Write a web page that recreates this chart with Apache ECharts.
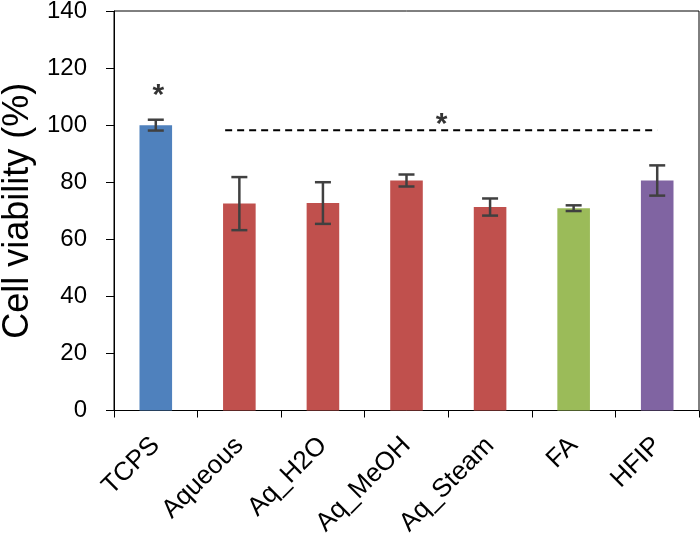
<!DOCTYPE html>
<html>
<head>
<meta charset="utf-8">
<script src="https://cdn.jsdelivr.net/npm/echarts@6/dist/echarts.min.js"></script>
<style>
html,body{margin:0;padding:0;background:#fff;}
#chart{width:700px;height:537px;}
</style>
</head>
<body>
<div id="chart"></div>
<script>
var categories = ['TCPS', 'Aqueous', 'Aq_H2O', 'Aq_MeOH', 'Aq_Steam', 'FA', 'HFIP'];
var viability = [100, 72.5, 72.7, 80.6, 71.3, 70.9, 80.6];
var errors = [1.9, 9.3, 7.3, 2.1, 3.0, 1.0, 5.3];
var barColors = ['#4F81BD', '#C0504D', '#C0504D', '#C0504D', '#C0504D', '#9BBB59', '#8064A2'];
var yTicks = {min: 0, max: 140, interval: 20};
var sigLine = [[1.33, 98.2], [6.5, 98.2]];
var stars = [[0.53, 110.2], [3.92, 100.1]];

var FONT = "'Liberation Sans', Arial, sans-serif";
var chart = echarts.init(document.getElementById('chart'));

var barData = viability.map(function (v, i) {
  return {value: v, itemStyle: {color: barColors[i]}};
});
var errData = viability.map(function (v, i) {
  return [i, v - errors[i], v + errors[i]];
});

chart.setOption({
  animation: false,
  backgroundColor: '#fff',
  grid: {left: 114, right: 1, top: 11, bottom: 126.5, containLabel: false, outerBoundsMode: 'none',
    show: true, borderColor: '#000', borderWidth: 1, backgroundColor: 'transparent'},
  xAxis: [{
    type: 'category',
    data: categories,
    axisLine: {lineStyle: {color: '#000', width: 1}},
    axisTick: {show: true, length: 7, lineStyle: {color: '#000', width: 1}, interval: 0},
    axisLabel: {rotate: 45, interval: 0, margin: 31, color: '#000', fontSize: 26, fontFamily: FONT},
    splitLine: {show: false}
  }, {
    type: 'value', min: 0, max: 7, show: false
  }],
  yAxis: {
    type: 'value',
    min: yTicks.min, max: yTicks.max, interval: yTicks.interval,
    name: 'Cell viability (%)',
    nameLocation: 'middle',
    nameGap: 76,
    nameTextStyle: {color: '#000', fontSize: 36, fontFamily: FONT},
    axisLine: {show: true, lineStyle: {color: '#000', width: 1}},
    axisTick: {show: true, length: 8, lineStyle: {color: '#000', width: 1}},
    axisLabel: {margin: 27, color: '#000', fontSize: 24, fontFamily: FONT},
    splitLine: {show: false}
  },
  series: [{
    type: 'bar',
    data: barData,
    barWidth: '39%',
    z: 2
  }, {
    type: 'custom',
    data: errData,
    z: 3,
    renderItem: function (params, api) {
      var x = api.value(0);
      var lo = api.coord([x, api.value(1)]);
      var hi = api.coord([x, api.value(2)]);
      var hw = 8;
      var st = {stroke: '#404040', lineWidth: 2.5};
      return {
        type: 'group',
        children: [
          {type: 'line', shape: {x1: lo[0], y1: lo[1], x2: hi[0], y2: hi[1]}, style: st},
          {type: 'line', shape: {x1: lo[0] - hw, y1: lo[1], x2: lo[0] + hw, y2: lo[1]}, style: st},
          {type: 'line', shape: {x1: hi[0] - hw, y1: hi[1], x2: hi[0] + hw, y2: hi[1]}, style: st}
        ]
      };
    }
  }, {
    type: 'line',
    xAxisIndex: 1,
    data: sigLine,
    symbol: 'none',
    lineStyle: {color: '#000', width: 2, type: [7, 5]},
    z: 4
  }, {
    type: 'scatter',
    xAxisIndex: 1,
    data: stars,
    symbolSize: 1,
    itemStyle: {color: 'rgba(0,0,0,0)'},
    label: {show: true, position: 'inside', formatter: '*', color: '#000', fontSize: 30, fontWeight: 'bold', fontFamily: FONT},
    z: 5
  }]
});
</script>
</body>
</html>
